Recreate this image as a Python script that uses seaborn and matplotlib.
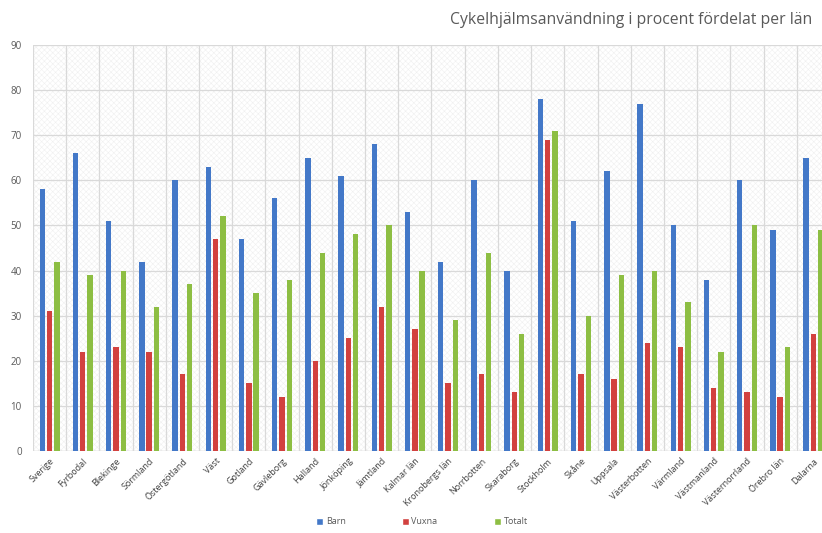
import numpy as np
import pandas as pd
import matplotlib
matplotlib.use("Agg")
import matplotlib.pyplot as plt
import seaborn as sns
from matplotlib.patches import Rectangle, Patch

# Data
lan = ['Sverige', 'Fyrbodal', 'Blekinge', 'Sörmland', 'Östergötland', 'Väst',
       'Gotland', 'Gävleborg', 'Halland', 'Jönköping', 'Jämtland', 'Kalmar län',
       'Kronobergs län', 'Norrbotten', 'Skaraborg', 'Stockholm', 'Skåne', 'Uppsala',
       'Västerbotten', 'Värmland', 'Västmanland', 'Västernorrland', 'Örebro län', 'Dalarna']
barn = [58, 66, 51, 42, 60, 63, 47, 56, 65, 61, 68, 53,
        42, 60, 40, 78, 51, 62, 77, 50, 38, 60, 49, 65]
vuxna = [31, 22, 23, 22, 17, 47, 15, 12, 20, 25, 32, 27,
         15, 17, 13, 69, 17, 16, 24, 23, 14, 13, 12, 26]
totalt = [42, 39, 40, 32, 37, 52, 35, 38, 44, 48, 50, 40,
          29, 44, 26, 71, 30, 39, 40, 33, 22, 50, 23, 49]
series = ['Barn', 'Vuxna', 'Totalt']
colors = ['#4378c8', '#d2413f', '#8dbe43']

df = pd.DataFrame({'Län': lan, 'Barn': barn, 'Vuxna': vuxna, 'Totalt': totalt})
long_df = df.melt(id_vars='Län', var_name='Grupp', value_name='Procent')

sns.set_theme(style="white")
plt.rcParams['font.family'] = ['Open Sans', 'DejaVu Sans']
plt.rcParams['hatch.linewidth'] = 0.4

fig = plt.figure(figsize=(8.22, 5.33), dpi=100)
# plot area runs past the right edge, like the cropped original
ax = fig.add_axes([0.0401, 0.1538, 0.9696, 0.7618])

# faint textured background
ax.add_patch(Rectangle((0, 0), 1, 1, transform=ax.transAxes, facecolor='white',
                       edgecolor='#f0f0f0', hatch='xxxxxx', linewidth=0, zorder=0))

sns.barplot(data=long_df, x='Län', y='Procent', hue='Grupp', hue_order=series,
            palette=colors, width=0.66, gap=0.26, saturation=1, linewidth=0,
            ax=ax, legend=False, zorder=3)

ax.set_xlim(-0.5, len(lan) - 0.5)
ax.set_ylim(0, 90)
ax.set_yticks(range(0, 91, 10))
ax.set_xticks(np.arange(-0.5, len(lan)), minor=True)
ax.grid(axis='y', which='major', color='#d9d9d9', linewidth=0.9, zorder=1)
ax.grid(axis='x', which='minor', color='#d9d9d9', linewidth=0.9, zorder=1)
ax.set_axisbelow(True)
for s in ax.spines.values():
    s.set_visible(False)
ax.axhline(0, color='#d9d9d9', linewidth=1, zorder=2)

ax.set_xlabel('')
ax.set_ylabel('')
ax.tick_params(axis='both', which='both', length=0)
ax.tick_params(axis='y', labelsize=7, labelcolor='#595959', pad=8)
ax.set_xticks(range(len(lan)))
ax.set_xticklabels(lan, rotation=45, ha='right', rotation_mode='anchor',
                   fontsize=6.5, color='#404040')
ax.tick_params(axis='x', pad=4)

fig.text(0.988, 0.962, 'Cykelhjälmsanvändning i procent fördelat per län',
         ha='right', va='center', fontsize=11.3, color='#595959')

handles = [Patch(facecolor=c, label=s) for c, s in zip(colors, series)]
fig.legend(handles=handles, loc='center', bbox_to_anchor=(0.513, 0.021), ncol=3,
           frameon=False, fontsize=6.5, handlelength=0.8, handleheight=0.8,
           handletextpad=0.3, columnspacing=6.2, labelcolor='#595959')

fig.savefig('out.png', dpi=100)
